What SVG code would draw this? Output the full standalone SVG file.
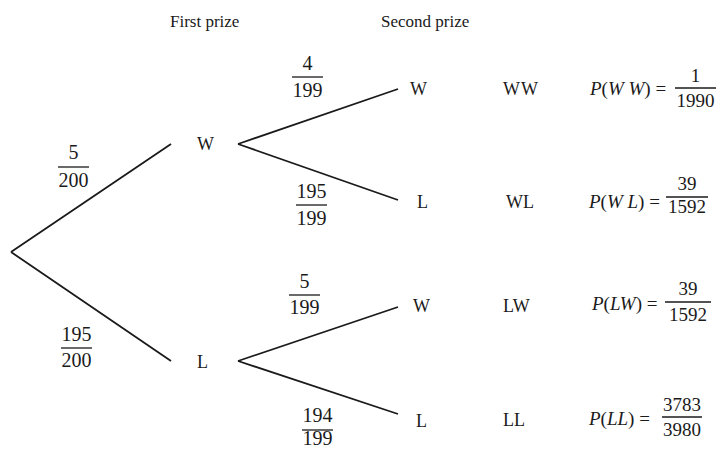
<svg xmlns="http://www.w3.org/2000/svg" width="720" height="449" viewBox="0 0 720 449" font-family="Liberation Serif, Times New Roman, serif">
<style>
text{fill:#1a1a1a}
.h{font-size:17px}
.n{font-size:18px}
.f{font-size:20px;text-anchor:middle}
.r{font-size:19px}
.rf{font-size:19px;text-anchor:middle}
.i{font-style:italic}
.e{stroke:#1a1a1a;stroke-width:1.8;fill:none}
.b{stroke:#1a1a1a;stroke-width:1.3}
</style>
<rect width="720" height="449" fill="#fff"/>
<text class="h" x="170" y="27">First prize</text>
<text class="h" x="381" y="27">Second prize</text>
<g id="connectors">
<path class="e" d="M11 252 L171 144 M11 252 L171 361 M238 144 L398 89 M238 144 L398 200 M238 361 L398 307 M238 361 L398 414"/>
</g>
<g id="w1"><text class="n" x="197" y="150">W</text></g>
<g id="l1"><text class="n" x="197" y="368">L</text></g>
<g id="ww"><text class="n" x="410" y="95">W</text></g>
<g id="wl"><text class="n" x="417" y="208">L</text></g>
<g id="lw"><text class="n" x="413" y="312">W</text></g>
<g id="ll"><text class="n" x="416" y="427">L</text></g>
<g id="labels">
<text class="f" x="73.5" y="159">5</text><line class="b" x1="58" y1="167" x2="89" y2="167"/><text class="f" x="73.5" y="187">200</text>
<text class="f" x="76.5" y="341">195</text><line class="b" x1="61" y1="348" x2="92" y2="348"/><text class="f" x="76.5" y="367">200</text>
<text class="f" x="307.5" y="70">4</text><line class="b" x1="292" y1="77" x2="323" y2="77"/><text class="f" x="307.5" y="97">199</text>
<text class="f" x="311.5" y="198">195</text><line class="b" x1="296" y1="205" x2="327" y2="205"/><text class="f" x="311.5" y="225">199</text>
<text class="f" x="304.5" y="288">5</text><line class="b" x1="289" y1="295" x2="320" y2="295"/><text class="f" x="304.5" y="314">199</text>
<text class="f" x="317.5" y="422">194</text><line class="b" x1="302" y1="430" x2="333" y2="430"/><text class="f" x="317.5" y="445">199</text>
</g>
<g id="outcomes">
<text class="n" x="503" y="95" letter-spacing="1">WW</text>
<text class="n" x="506" y="208">WL</text>
<text class="n" x="503" y="312">LW</text>
<text class="n" x="503" y="426">LL</text>
</g>
<g id="probs">
<text class="r" x="590" y="95"><tspan class="i">P</tspan>(<tspan class="i">W W</tspan>) =</text>
<text class="rf" x="695.5" y="82">1</text><line class="b" x1="675" y1="88" x2="716" y2="88"/><text class="rf" x="695.5" y="107">1990</text>
<text class="r" x="589" y="208"><tspan class="i">P</tspan>(<tspan class="i">W L</tspan>) =</text>
<text class="rf" x="687" y="190">39</text><line class="b" x1="666" y1="197" x2="708" y2="197"/><text class="rf" x="687" y="213">1592</text>
<text class="r" x="592" y="310"><tspan class="i">P</tspan>(<tspan class="i">LW</tspan>) =</text>
<text class="rf" x="688" y="295">39</text><line class="b" x1="665" y1="302" x2="711" y2="302"/><text class="rf" x="688" y="321">1592</text>
<text class="r" x="589" y="425"><tspan class="i">P</tspan>(<tspan class="i">LL</tspan>) =</text>
<text class="rf" x="682" y="411">3783</text><line class="b" x1="662" y1="417" x2="702" y2="417"/><text class="rf" x="682" y="436">3980</text>
</g>
</svg>
